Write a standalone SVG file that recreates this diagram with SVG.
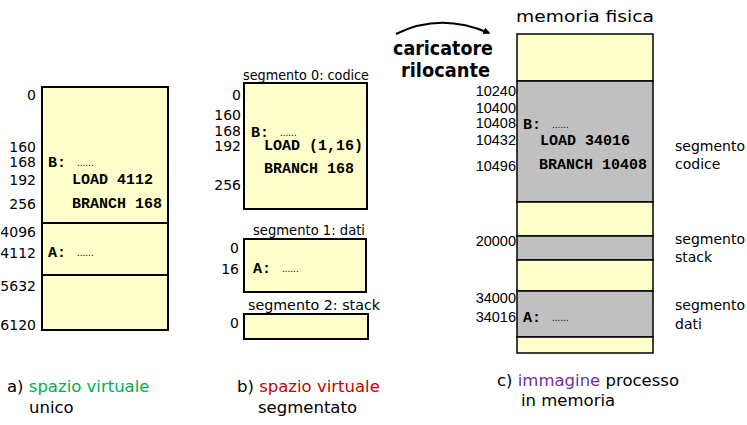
<svg xmlns="http://www.w3.org/2000/svg" width="747" height="425" viewBox="0 0 747 425">
<defs>
<marker id="ah" viewBox="0 0 10 10" refX="8" refY="5" markerWidth="7" markerHeight="7" orient="auto" markerUnits="userSpaceOnUse">
<path d="M0,0 L10,5 L0,10 z" fill="#000"/>
</marker>
</defs>
<style>
.box{fill:#ffffcc;stroke:#000;stroke-width:2}
.gray{fill:#c0c0c0;stroke:#000;stroke-width:1.5}
.yel{fill:#ffffcc;stroke:#000;stroke-width:1.5}
.sep{stroke:#000;stroke-width:2}
.num{font-family:"DejaVu Sans",sans-serif;font-size:14px;fill:#000;text-anchor:end}
.numc{font-family:"Liberation Sans",Arial,sans-serif;font-size:14.5px;fill:#000;text-anchor:end}
.code{font-family:"Liberation Mono","Courier New",monospace;font-weight:bold;font-size:15px;fill:#000}
.dots{font-family:"Liberation Sans",sans-serif;font-size:10px;fill:#000}
.lbl{font-family:"DejaVu Sans",sans-serif;font-size:14px;fill:#000}
.cap{font-family:"DejaVu Sans",sans-serif;font-size:16.5px;fill:#000}
.big{font-family:"DejaVu Sans",sans-serif;font-weight:bold;font-size:19px;fill:#000}
</style>

<g id="spazio-unico">
<rect class="box" x="42" y="87" width="126" height="243"/>
<line class="sep" x1="42" y1="223" x2="168" y2="223"/>
<line class="sep" x1="42" y1="275" x2="168" y2="275"/>
<text class="num" x="36" y="100">0</text>
<text class="num" x="36" y="152">160</text>
<text class="num" x="36" y="167">168</text>
<text class="num" x="36" y="185">192</text>
<text class="num" x="36" y="209">256</text>
<text class="num" x="36" y="237">4096</text>
<text class="num" x="36" y="258">4112</text>
<text class="num" x="36" y="291">5632</text>
<text class="num" x="36" y="330">6120</text>
<text class="code" x="48" y="167">B:</text><text class="dots" x="77" y="166">......</text>
<text class="code" x="72" y="184">LOAD 4112</text>
<text class="code" x="72" y="208">BRANCH 168</text>
<text class="code" x="48" y="257">A:</text><text class="dots" x="77" y="256">......</text>
</g>

<g id="segmento0">
<text class="lbl" x="243" y="80" textLength="126" lengthAdjust="spacingAndGlyphs">segmento 0: codice</text>
<rect class="box" x="244" y="83" width="123" height="126"/>
<text class="num" x="241" y="100">0</text>
<text class="num" x="241" y="120">160</text>
<text class="num" x="241" y="136">168</text>
<text class="num" x="241" y="151">192</text>
<text class="num" x="241" y="190">256</text>
<text class="code" x="251" y="137">B:</text><text class="dots" x="280" y="136">......</text>
<text class="code" x="264" y="150">LOAD (1,16)</text>
<text class="code" x="264" y="173">BRANCH 168</text>
</g>

<g id="segmento1">
<text class="lbl" x="253" y="235" textLength="112" lengthAdjust="spacingAndGlyphs">segmento 1: dati</text>
<rect class="box" x="244" y="239" width="122" height="53"/>
<text class="num" x="239" y="253">0</text>
<text class="num" x="239" y="274">16</text>
<text class="code" x="253" y="273">A:</text><text class="dots" x="282" y="272">......</text>
</g>

<g id="segmento2">
<text class="lbl" x="248" y="310" textLength="132" lengthAdjust="spacingAndGlyphs">segmento 2: stack</text>
<rect class="box" x="244" y="314" width="124" height="25"/>
<text class="num" x="239" y="328">0</text>
</g>

<g id="caricatore">
<text class="big" x="393" y="55" textLength="100" lengthAdjust="spacingAndGlyphs">caricatore</text>
<text class="big" x="401" y="77" textLength="89" lengthAdjust="spacingAndGlyphs">rilocante</text>
</g>

<g id="memoria-fisica">
<text class="cap" x="516" y="22" textLength="138" lengthAdjust="spacingAndGlyphs">memoria fisica</text>
<rect class="yel" x="517" y="34" width="136" height="47"/>
<rect class="gray" x="517" y="81" width="136" height="121"/>
<rect class="yel" x="517" y="202" width="136" height="34"/>
<rect class="gray" x="517" y="236" width="136" height="24"/>
<rect class="yel" x="517" y="260" width="136" height="31"/>
<rect class="gray" x="517" y="291" width="136" height="46"/>
<rect class="yel" x="517" y="337" width="136" height="16"/>
<text class="numc" x="516" y="96">10240</text>
<text class="numc" x="516" y="113">10400</text>
<text class="numc" x="516" y="128">10408</text>
<text class="numc" x="516" y="145">10432</text>
<text class="numc" x="516" y="171">10496</text>
<text class="numc" x="516" y="246">20000</text>
<text class="numc" x="516" y="303">34000</text>
<text class="numc" x="516" y="322">34016</text>
<text class="code" x="523" y="129">B:</text><text class="dots" x="552" y="128">......</text>
<text class="code" x="540" y="145">LOAD 34016</text>
<text class="code" x="539" y="169">BRANCH 10408</text>
<text class="code" x="523" y="322">A:</text><text class="dots" x="552" y="321">......</text>
<text class="lbl" x="675" y="151">segmento</text>
<text class="lbl" x="675" y="169">codice</text>
<text class="lbl" x="675" y="244">segmento</text>
<text class="lbl" x="675" y="262">stack</text>
<text class="lbl" x="675" y="310">segmento</text>
<text class="lbl" x="675" y="329">dati</text>
</g>

<g id="didascalie">
<text class="cap" x="7" y="392">a) <tspan fill="#00b050">spazio virtuale</tspan></text>
<text class="cap" x="29" y="413" fill="#00b050">unico</text>
<text class="cap" x="237" y="392">b) <tspan fill="#cc0000">spazio virtuale</tspan></text>
<text class="cap" x="258" y="413" fill="#cc0000">segmentato</text>
<text class="cap" x="497" y="386">c) <tspan fill="#7030a0">immagine</tspan> processo</text>
<text class="cap" x="521" y="406">in memoria</text>
</g>

<g id="connettori">
<path d="M396,34 Q440,12 489,33" fill="none" stroke="#000" stroke-width="2" marker-end="url(#ah)"/>
</g>
</svg>
